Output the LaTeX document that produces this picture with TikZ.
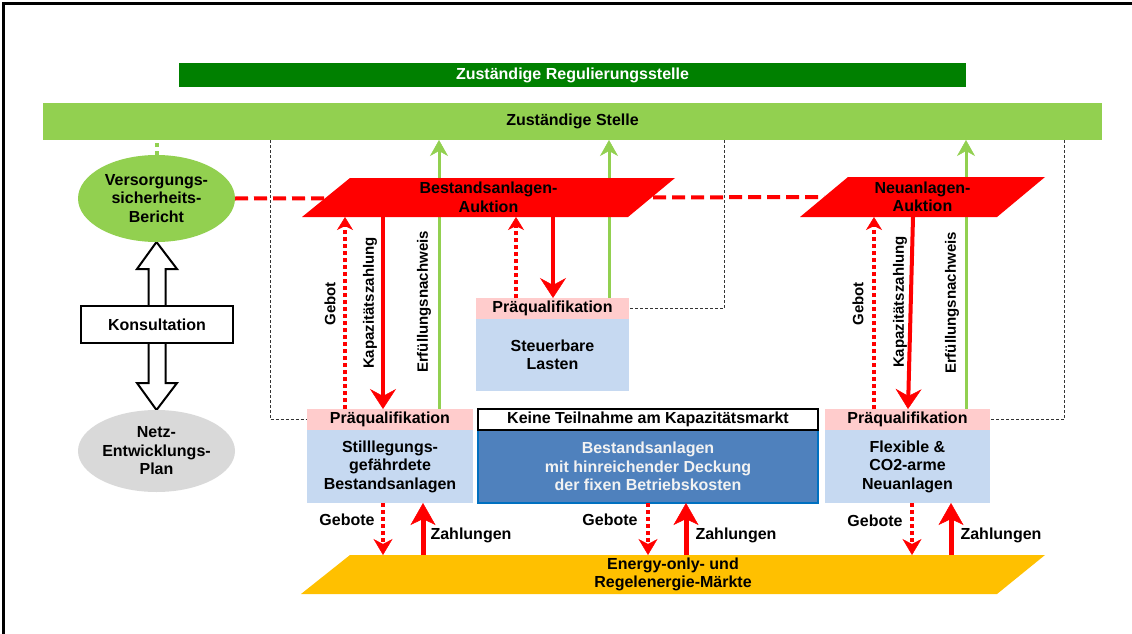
\documentclass[tikz,border=0pt]{standalone}
\usepackage{fontspec}
\setmainfont{Liberation Sans}
\usetikzlibrary{arrows.meta,shapes.geometric,calc,backgrounds}
\definecolor{regGreen}{RGB}{0,128,0}
\definecolor{lgreen}{RGB}{146,208,80}
\definecolor{pinkq}{RGB}{255,204,204}
\definecolor{lblue}{RGB}{198,217,241}
\definecolor{dblue}{RGB}{79,129,189}
\definecolor{dbluebd}{RGB}{0,112,192}
\definecolor{orangec}{RGB}{255,192,0}
\definecolor{grayc}{RGB}{217,217,217}
\definecolor{redc}{RGB}{255,0,0}
\begin{document}
\begin{tikzpicture}[x=1pt,y=-1pt,
  every node/.style={font=\bfseries\fontsize{16}{18.5}\selectfont, inner sep=0pt, outer sep=0pt, align=center},
  pq/.style={rectangle, fill=pinkq, minimum height=21pt},
  lb/.style={rectangle, fill=lblue, minimum height=73pt},
  rot/.style={rotate=90, font=\bfseries\fontsize{15}{17}\selectfont},
  gebotarrow/.style={draw=redc, line width=4pt, dash pattern=on 4pt off 3pt, -{Stealth[length=13pt,width=16pt,inset=4pt,line width=0.5pt]}},
  kaparrow/.style={draw=redc, line width=4pt, -{Stealth[length=20pt,width=26pt,inset=7pt,line width=0.5pt]}},
  greenarrow/.style={draw=lgreen, line width=3pt, -{Stealth[length=16pt,width=18pt,inset=5pt,line width=0.5pt]}},
  zahlarrow/.style={draw=redc, line width=5pt, -{Stealth[length=22pt,width=25pt,inset=6pt,line width=0.5pt]}},
  gebotearrow/.style={draw=redc, line width=4pt, dash pattern=on 4pt off 3pt, -{Stealth[length=16pt,width=19pt,inset=5pt,line width=0.5pt]}},
  bdash/.style={draw=black!80, line width=0.9pt, dash pattern=on 3pt off 2pt},
  rdash/.style={draw=redc, line width=4pt, dash pattern=on 13pt off 6pt},
  hollow/.style={draw=black, line width=2pt, fill=white, line join=miter},
]
\useasboundingbox (0,0) rectangle (1132,634);
% frame
\draw[line width=3pt] (1132,4) -- (3.5,4) -- (3.5,634);

% bars
\node[fill=regGreen, text=white, minimum width=787pt, minimum height=24pt] (reg) at (572.5,75) {Zuständige Regulierungsstelle};
\node[fill=lgreen, minimum width=1059pt, minimum height=37pt] (stelle) at (572.5,121.5) {Zuständige Stelle};

% left column
\node[ellipse, fill=lgreen, minimum width=157pt, minimum height=87pt] (vsb) at (156.5,198.5) {Versorgungs-\\sicherheits-\\Bericht};
\node[draw, line width=2pt, fill=white, minimum width=152pt, minimum height=37pt] (kons) at (157,324.5) {Konsultation};
\node[ellipse, fill=grayc, minimum width=157pt, minimum height=82pt] (ngp) at (156.5,451) {Netz-\\Entwicklungs-\\Plan};

% auctions and markets (text; fills on background)
\node[minimum width=373pt, minimum height=39pt] (auB) at (488.5,197.5) {Bestandsanlagen-\\Auktion};
\node[minimum width=245pt, minimum height=40pt] (auN) at (922.5,197) {Neuanlagen-\\Auktion};
\node[minimum width=744pt, minimum height=39pt] (en) at (673,574.5) {Energy-only- und\\Regelenergie-Märkte};

% plant boxes
\node[pq, minimum width=166pt] (pqL) at (390,419.5) {Präqualifikation};
\node[lb, minimum width=166pt] (blL) at (390,466.5) {Stilllegungs-\\gefährdete\\Bestandsanlagen};
\node[fill=dblue, draw=dbluebd, line width=2pt, text=white!95!black, minimum width=340pt, minimum height=73pt] (blM) at (648,466.5) {Bestandsanlagen\\mit hinreichender Deckung\\der fixen Betriebskosten};
\node[draw, line width=2pt, fill=white, minimum width=340pt, minimum height=21pt] (keine) at (648,419.5) {Keine Teilnahme am Kapazitätsmarkt};
\node[pq, minimum width=165pt] (pqR) at (907.5,419.5) {Präqualifikation};
\node[lb, minimum width=165pt] (blR) at (907.5,466.5) {Flexible \&\\CO2-arme\\Neuanlagen};
\node[pq, minimum width=153pt] (pqS) at (552.5,308.5) {Präqualifikation};
\node[lb, minimum width=153pt, minimum height=72pt] (blS) at (552.5,355) {Steuerbare\\Lasten};

% rotated labels
\node[rot] (lgL) at (330,304) {Gebot};
\node[rot] (lkL) at (370,303) {Kapazitätszahlung};
\node[rot] (leL) at (424,302) {Erfüllungsnachweis};
\node[rot] (lgR) at (858,304) {Gebot};
\node[rot] (lkR) at (900,302) {Kapazitätszahlung};
\node[rot] (leR) at (952,303) {Erfüllungsnachweis};

% bottom labels
\node (g1) at (347,520) {Gebote};
\node (z1) at (471,535) {Zahlungen};
\node (g2) at (610,520) {Gebote};
\node (z2) at (736,535) {Zahlungen};
\node (g3) at (875,521) {Gebote};
\node (z3) at (1001,535) {Zahlungen};

% red arrows between auctions and plants
\draw[gebotarrow] (345,0 |- pqL.north) -- (345,0 |- auB.south);
\draw[kaparrow] (383,0 |- auB.south) -- (383,0 |- pqL.north);
\draw[gebotarrow] (516,0 |- pqS.north) -- (516,0 |- auB.south);
\draw[kaparrow] (553,0 |- auB.south) -- (553,0 |- pqS.north);
\draw[gebotarrow] (874,0 |- pqR.north) -- (874,0 |- auN.south);
\draw[kaparrow] (913,0 |- auN.south) -- (908,0 |- pqR.north);

% bottom arrows
\draw[gebotearrow] (383,0 |- blL.south) -- (383,0 |- en.north);
\draw[zahlarrow] (423,0 |- en.north) -- (423,0 |- blL.south);
\draw[gebotearrow] (648,0 |- blM.south) -- (648,0 |- en.north);
\draw[zahlarrow] (686,0 |- en.north) -- (686,0 |- blM.south);
\draw[gebotearrow] (912,0 |- blR.south) -- (912,0 |- en.north);
\draw[zahlarrow] (951,0 |- en.north) -- (951,0 |- blR.south);

\begin{scope}[on background layer]
  % green proof arrows
  \draw[greenarrow] (439,0 |- pqL.north) -- (439,0 |- stelle.south);
  \draw[greenarrow] (609,0 |- pqS.north) -- (609,0 |- stelle.south);
  \draw[greenarrow] (966,0 |- pqR.north) -- (966,0 |- stelle.south);
  % green dotted
  \draw[draw=lgreen, line width=4pt, dash pattern=on 4pt off 4pt] (vsb.north) -- (vsb.north |- stelle.south);
  % red dashed link
  \draw[rdash] (vsb.east) -- ($(auN.west)+(24,0)$);
  % black dashed frames
  \draw[bdash] (270,0 |- stelle.south) |- (pqL.west);
  \draw[bdash] (724,0 |- stelle.south) |- (pqS.east);
  \draw[bdash] (1064,0 |- stelle.south) |- (pqR.east);
  % parallelogram fills
  \fill[redc] ([xshift=48pt]auB.north west) -- (auB.north east) -- ([xshift=-47pt]auB.south east) -- (auB.south west) -- cycle;
  \fill[redc] ([xshift=48pt]auN.north west) -- (auN.north east) -- ([xshift=-48pt]auN.south east) -- (auN.south west) -- cycle;
  \fill[orangec] ([xshift=49pt]en.north west) -- (en.north east) -- ([xshift=-48pt]en.south east) -- (en.south west) -- cycle;
  % hollow arrows
  \draw[hollow] ($(kons.north)+(-8.5,0)$) -- ($(kons.north)+(-8.5,-37)$) -- ($(kons.north)+(-20,-37)$) -- (vsb.south) -- ($(kons.north)+(20,-37)$) -- ($(kons.north)+(8.5,-37)$) -- ($(kons.north)+(8.5,0)$);
  \draw[hollow] ($(kons.south)+(-8.5,0)$) -- ($(kons.south)+(-8.5,40)$) -- ($(kons.south)+(-20,40)$) -- (ngp.north) -- ($(kons.south)+(20,40)$) -- ($(kons.south)+(8.5,40)$) -- ($(kons.south)+(8.5,0)$);
\end{scope}
\end{tikzpicture}
\end{document}
